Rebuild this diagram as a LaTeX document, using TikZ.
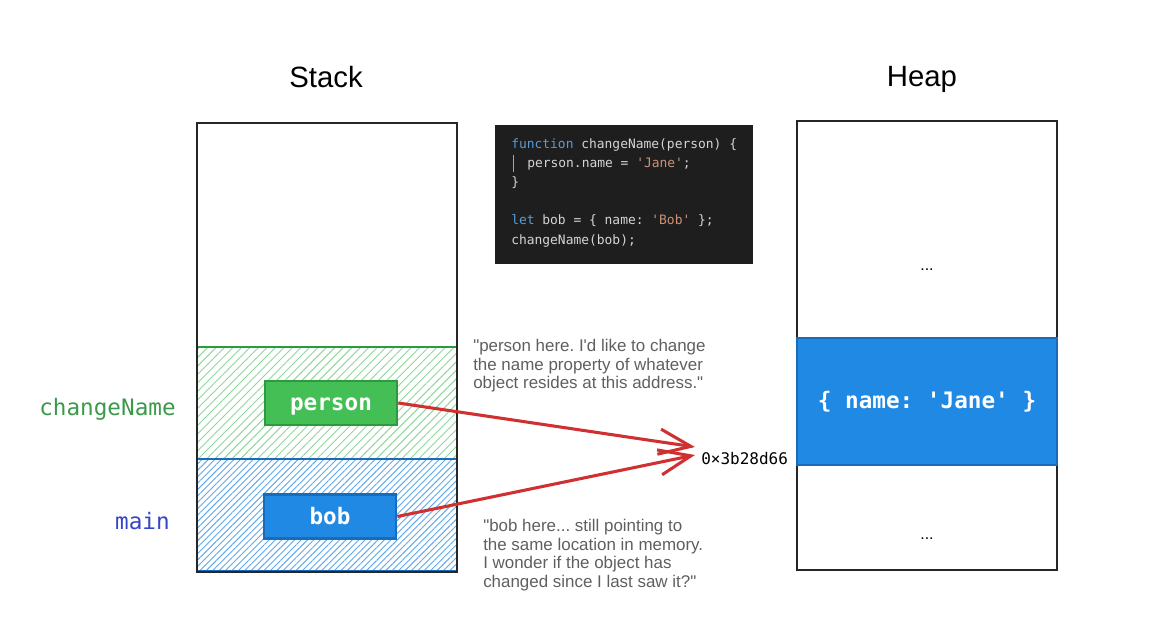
\documentclass[tikz,border=0pt]{standalone}
\usepackage{fontspec}
\setmainfont{Liberation Sans}[Ligatures=TeXOff]
\setmonofont{DejaVu Sans Mono}
\usetikzlibrary{arrows.meta,patterns.meta}
\definecolor{gfill}{HTML}{43BF55}
\definecolor{gline}{HTML}{2E9A40}
\definecolor{ghatch}{HTML}{8FD69C}
\definecolor{bfill}{HTML}{2089E3}
\definecolor{bline}{HTML}{1A6BB8}
\definecolor{bhatch}{HTML}{5FA8EA}
\definecolor{arrowred}{HTML}{D0302F}
\definecolor{note}{HTML}{5F5F5F}
\definecolor{codebg}{HTML}{1E1E1E}
\definecolor{kw}{HTML}{569CD6}
\definecolor{str}{HTML}{CE9178}
\definecolor{ctext}{HTML}{D4D4D4}
\definecolor{cngreen}{HTML}{3A9A4A}
\definecolor{mainblue}{HTML}{3545C8}
\tikzset{
  title/.style={font=\fontsize{22}{26}\selectfont, inner sep=0pt},
  varbox/.style={draw, line width=2pt, minimum width=99pt, minimum height=33pt, inner sep=0pt, text height=14pt, text depth=2pt, text=white, font=\ttfamily\bfseries\fontsize{17}{19}\selectfont},
  notetext/.style={text=note, align=left, font=\frenchspacing\fontsize{12.7}{13.9}\selectfont, inner sep=0pt, anchor=north west},
  codeline/.style={anchor=base west, inner sep=0pt, text=ctext, font=\ttfamily\fontsize{9.7}{12}\selectfont},
  framelabel/.style={anchor=east, inner sep=0pt, font=\ttfamily\fontsize{17}{19}\selectfont},
  ptr/.style={draw=arrowred, line width=2.3pt, -{Straight Barb[length=24pt,width=19pt,line width=2.3pt]}},
  dots/.style={inner sep=0pt, font=\fontsize{12}{14}\selectfont}
}
\begin{document}
\begin{tikzpicture}[x=0.75pt,y=-0.75pt]
\useasboundingbox (0,0) rectangle (1158,623);
% titles
\node[title] (stacktitle) at (326,77) {Stack};
\node[title] (heaptitle) at (922,79) {Heap};
% stack
\draw[pattern={Lines[angle=45,distance=4.5pt,line width=0.7pt]}, pattern color=ghatch] (197,347) rectangle (457,459);
\draw[pattern={Lines[angle=45,distance=3.4pt,line width=0.7pt]}, pattern color=bhatch] (197,459) rectangle (457,571);
\draw[gline, line width=1pt] (197,347) rectangle (457,459);
\draw[bline, line width=1pt] (197,459) rectangle (457,571);
\draw[black!85, line width=1.2pt] (197,123) rectangle (457,572);
\node[varbox, draw=gline, fill=gfill] (person) at (331,403) {person};
\node[varbox, draw=bline, fill=bfill] (bob) at (330,516.5) {bob};
\node[framelabel, text=cngreen] (cnlabel) at (176,409) {changeName};
\node[framelabel, text=mainblue] (mainlabel) at (170,521) {main};
% code
\fill[codebg] (495,125) rectangle (753,264);
\draw[gray!70, line width=0.6pt] (513,155) -- (513,172);
\node[codeline] (c1) at (511,149) {\textcolor{kw}{function} changeName(person) \{};
\node[codeline] (c2) at (527,168) {person.name = \textcolor{str}{'Jane'};};
\node[codeline] (c3) at (511,187) {\}};
\node[codeline] (c4) at (511,225) {\textcolor{kw}{let} bob = \{ name: \textcolor{str}{'Bob'} \};};
\node[codeline] (c5) at (511,245) {changeName(bob);};
% heap
\draw[black!85, line width=1.2pt] (797,121) rectangle (1057,570);
\node[draw=bline, fill=bfill, line width=1.5pt, minimum width=195pt, minimum height=95.25pt, inner sep=0pt, text=white, font=\ttfamily\bfseries\fontsize{17}{20}\selectfont] (obj) at (927,401.5) {\{ name: 'Jane' \}};
\node[dots] (dots1) at (927,270) {...};
\node[dots] (dots2) at (927,539) {...};
% address
\node[inner sep=0pt, anchor=west, font=\ttfamily\fontsize{12}{14}\selectfont] (addr) at (701,459) {0×3b28d66};
\coordinate (tip1) at (695,447);
\coordinate (tip2) at (695,455);
\draw[ptr] (person.east) -- (tip1);
\draw[ptr] (bob.east) -- (tip2);
% notes
\node[notetext] (note1) at (473,339) {"person here. I'd like to change\\the name property of whatever\\object resides at this address."};
\node[notetext] (note2) at (483,519) {"bob here... still pointing to\\the same location in memory.\\I wonder if the object has\\changed since I last saw it?"};
\end{tikzpicture}
\end{document}
